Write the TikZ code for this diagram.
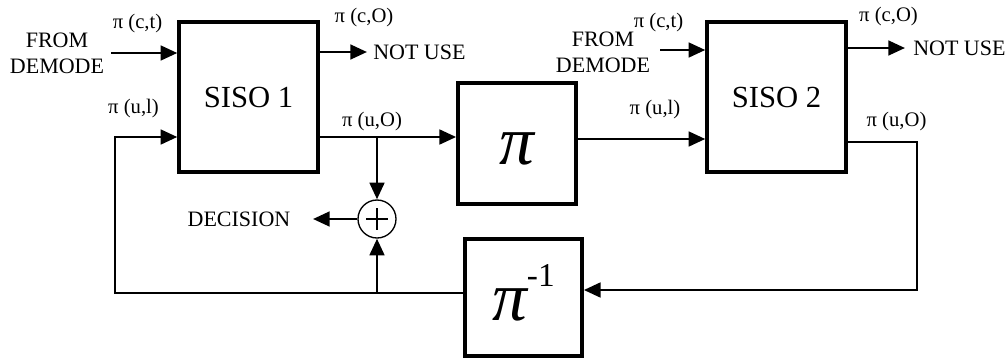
\documentclass[tikz,border=0pt]{standalone}
\usepackage{fontspec}
\setmainfont{Liberation Serif}
\usetikzlibrary{arrows.meta,calc}

\begin{document}
\begin{tikzpicture}[x=0.75pt,y=-0.75pt,>={Triangle[length=12.5pt,width=11pt]},
  blk/.style={draw,line width=2.8pt,inner sep=0pt},
  lbl/.style={inner sep=0pt,font=\fontsize{15.5}{15.5}\selectfont},
  txt/.style={inner sep=0pt,align=center,font=\fontsize{16.5}{19.5}\selectfont},
  conn/.style={line width=2pt}]
\useasboundingbox (0,0) rectangle (1007,358);
% blocks
\node[blk,minimum width=104pt,minimum height=112.5pt,font=\fontsize{23}{23}\selectfont] (siso1) at (248.5,97) {SISO 1};
\node[blk,minimum width=104pt,minimum height=112.5pt,font=\fontsize{23}{23}\selectfont] (siso2) at (776.5,97) {SISO 2};
\node[blk,minimum width=88.5pt,minimum height=90.75pt,text height=32pt,text depth=0pt,
  font=\fontsize{52}{52}\selectfont\itshape] (pil) at (517,143.5) {π};
\node[blk,minimum width=87.75pt,minimum height=87.75pt,text height=34pt,text depth=0pt] (pinv) at (523.5,297.5)
  {{\fontsize{52}{52}\selectfont\itshape π}\raisebox{25pt}{\fontsize{25}{25}\selectfont -1}};
\node[draw,circle,line width=1pt,minimum size=28.5pt,inner sep=0pt] (sum) at (377,219) {};
\draw[line width=1pt] (sum.center) +(-11,0) -- +(11,0) (sum.center) +(0,-11) -- +(0,11);
% texts
\node[txt] (from1) at (57,53) {FROM\\DEMODE};
\node[txt] (from2) at (603,52) {FROM\\DEMODE};
\node[txt,anchor=west] (nu1) at (373,52) {NOT USE};
\node[txt,anchor=west] (nu2) at (913,48) {NOT USE};
\node[txt] (dec) at (239,219) {DECISION};
\node[lbl] (lct1) at (137.5,24) {π (c,t)};
\node[lbl] (lul1) at (133.5,109) {π (u,l)};
\node[lbl] (lco1) at (364,18) {π (c,O)};
\node[lbl] (luo1) at (372,122) {π (u,O)};
\node[lbl] (lct2) at (658.5,23) {π (c,t)};
\node[lbl] (lul2) at (655,110) {π (u,l)};
\node[lbl] (lco2) at (888.5,17) {π (c,O)};
\node[lbl] (luo2) at (896.5,122) {π (u,O)};
% free ends and corners
\coordinate (ct1) at (111,53);
\coordinate (co1) at (367,52);
\coordinate (ul1) at (115,137);
\coordinate (tap) at (377,137);
\coordinate (fb1) at (115,293);
\coordinate (dc) at (313,219);
\coordinate (ct2) at (660,50);
\coordinate (ul2) at (660,139);
\coordinate (co2) at (905,48);
\coordinate (uo2) at (917,142);
\coordinate (fb2) at (917,290);
% connectors
\draw[conn,->] (ct1) -- (ct1 -| siso1.west);
\draw[conn,->] (siso1.east |- co1) -- (co1);
\draw[conn,->] (siso1.east |- tap) -- (tap -| pil.west);
\draw[conn,->] (tap) -- (sum.north);
\draw[conn,->] (sum.west) -- (dc);
\draw[conn,->] (pinv.west |- fb1) -- (fb1) -- (ul1) -- (ul1 -| siso1.west);
\draw[conn,->] (sum |- fb1) -- (sum.south);
\draw[conn,->] (pil.east |- ul2) -- (ul2 -| siso2.west);
\draw[conn,->] (ct2) -- (ct2 -| siso2.west);
\draw[conn,->] (siso2.east |- co2) -- (co2);
\draw[conn,->] (siso2.east |- uo2) -- (uo2) -- (fb2) -- (fb2 -| pinv.east);
\end{tikzpicture}
\end{document}
